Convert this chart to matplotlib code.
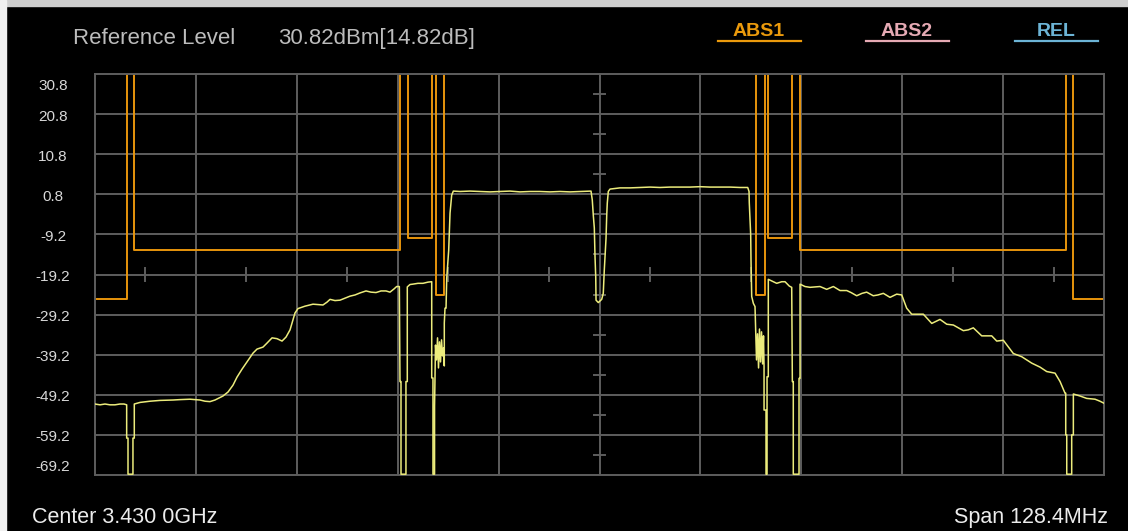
import numpy as np
import matplotlib
matplotlib.use("Agg")
import matplotlib.pyplot as plt
from matplotlib import transforms
from matplotlib.patches import Rectangle

# ---------------- data ----------------
center_label = "Center 3.430 0GHz"
span_label = "Span 128.4MHz"
span_mhz = 128.4
y_top = 30.8
y_bottom = -69.2
ytick_vals = [30.8, 20.8, 10.8, 0.8, -9.2, -19.2, -29.2, -39.2, -49.2, -59.2, -69.2]
ytick_labels = ["30.8", "20.8", "10.8", "0.8", "-9.2", "-19.2", "-29.2", "-39.2", "-49.2", "-59.2", "-69.2"]
ref_title = "Reference Level"
ref_value = "30.82dBm[14.82dB]"
legend_names = ["ABS1", "ABS2", "REL"]
legend_colors = ["#eb9a0c", "#e6aab4", "#6cb4d6"]

# measured trace: frequency offset from centre (MHz), level (dBm)
trace_f = [
    -64.2, -63.56, -62.93, -62.30, -61.66, -61.02, -60.51, -60.17, -60.17, -60.00, -60.00, -59.37, -59.37, -59.20, -59.20,
    -58.47, -57.20, -55.93, -54.27, -53.38, -52.11, -50.84, -50.20, -49.57, -48.93, -47.91, -47.27, -46.64, -46.13,
    -45.49, -44.86, -44.09, -43.58, -42.82, -42.31, -41.67, -41.04, -40.40, -39.89, -39.38, -39.00, -38.75, -38.37,
    -37.48, -36.46, -35.82, -35.19, -34.68, -34.29, -33.66, -33.02, -32.39, -31.75, -31.11, -30.48, -29.71, -29.08,
    -28.44, -27.80, -27.17, -26.66, -26.15, -25.81, -25.47, -25.39, -25.26, -25.26, -24.63, -24.63, -24.46, -24.46,
    -24.12, -23.73, -23.10, -22.46, -21.82, -21.35, -21.35, -21.19, -21.19, -20.99, -20.99, -20.87, -20.74, -20.61,
    -20.49, -20.36, -20.23, -20.10, -19.98, -19.85, -19.75, -19.75, -19.66, -19.53, -19.44, -19.19, -19.02, -18.81,
    -18.60, -17.75, -16.48, -15.21, -13.93, -12.66, -11.39, -10.12, -8.84, -7.57, -6.30, -5.02, -3.75, -2.48, -1.08,
    -0.92, -0.79, -0.66, -0.57, -0.48, -0.44, -0.15, 0.06, 0.28, 0.48, 0.61, 0.70, 0.83, 0.92, 0.99, 1.12, 1.34,
    2.61, 3.88, 5.16, 6.43, 7.70, 8.97, 10.25, 11.52, 12.79, 14.06, 15.34, 16.61, 17.88, 18.86,
    19.03, 19.06, 19.24, 19.28, 19.37, 19.58, 19.79, 19.88, 19.98, 20.11, 20.24, 20.36, 20.49, 20.62, 20.75, 20.87,
    20.94, 20.94, 21.19, 21.19, 21.32, 21.32, 21.48, 21.48, 21.92, 22.55, 23.19, 23.61, 24.16, 24.46, 24.54, 24.66,
    24.66, 25.39, 25.39, 25.52, 25.52, 26.15, 26.79, 27.43, 28.06, 28.91, 29.76, 30.61, 31.46, 32.01, 32.73, 33.41,
    34.00, 34.84, 35.44, 36.12, 36.97, 37.82, 38.46, 39.09, 39.73, 41.21, 42.28, 43.33, 44.19, 45.03, 46.30, 46.93,
    47.57, 48.64, 49.91, 50.55, 51.39, 52.66, 53.73, 55.00, 56.06, 56.91, 57.97, 58.61, 59.24, 59.33, 59.33, 59.46,
    59.46, 60.09, 60.09, 60.30, 60.30, 61.15, 62.00, 63.06, 63.69, 64.2,
]
trace_v = [
    -51.5, -51.7, -51.5, -51.7, -51.7, -51.5, -51.5, -51.7, -60.0, -60.0, -69.0, -69.0, -60.0, -60.0, -51.5,
    -51.1, -50.8, -50.6, -50.5, -50.4, -50.3, -50.5, -50.8, -50.9, -50.5, -49.5, -48.5, -46.8, -44.8,
    -42.8, -41.0, -38.8, -37.8, -37.3, -36.3, -35.0, -35.2, -35.8, -34.8, -33.0, -30.5, -28.8, -27.7,
    -27.1, -26.6, -26.7, -26.8, -26.1, -25.4, -25.7, -25.6, -25.1, -24.6, -24.3, -23.8, -23.3, -23.6,
    -23.7, -23.3, -23.3, -23.6, -22.8, -22.2, -22.2, -45.9, -45.9, -69.0, -69.0, -45.9, -45.9, -22.3,
    -21.7, -21.6, -21.4, -21.4, -21.1, -21.0, -45.0, -45.0, -69.0, -69.0, -52.0, -36.8, -40.5, -35.0,
    -42.5, -36.0, -41.0, -35.5, -39.5, -37.5, -42.0, -31.3, -27.6, -27.6, -20.1, -13.1, -3.9, 0.6,
    1.6, 1.5, 1.6, 1.5, 1.4, 1.5, 1.6, 1.4, 1.5, 1.5, 1.4, 1.5, 1.4, 1.5, 1.6,
    -0.6, -4.4, -7.6, -14.8, -19.8, -25.6, -26.2, -25.8, -25.4, -23.9, -18.1, -14.8, -10.2, -4.4, -1.4, 1.5, 2.1,
    2.4, 2.4, 2.5, 2.6, 2.5, 2.6, 2.6, 2.6, 2.7, 2.6, 2.6, 2.6, 2.5, 2.5,
    1.5, -1.3, -9.3, -15.6, -24.7, -26.4, -27.2, -34.0, -40.5, -34.0, -42.5, -32.8, -41.0, -33.5, -41.5, -34.5,
    -42.2, -53.0, -53.0, -69.0, -69.0, -44.7, -44.7, -20.4, -20.8, -21.4, -21.0, -21.0, -22.1, -22.4, -45.9, -45.9,
    -69.0, -69.0, -45.1, -45.1, -21.6, -22.2, -22.4, -22.3, -22.2, -22.9, -22.2, -23.2, -23.2, -23.7, -24.5, -23.9,
    -23.6, -24.5, -24.3, -23.9, -24.9, -24.1, -24.3, -27.6, -29.1, -29.1, -31.4, -30.4, -31.6, -31.8, -33.2, -33.0,
    -32.5, -34.5, -34.5, -35.8, -35.6, -38.9, -39.7, -41.3, -42.3, -43.4, -43.8, -45.9, -48.8, -48.8, -59.2, -59.2,
    -69.0, -69.0, -59.2, -59.2, -49.0, -49.5, -50.1, -50.3, -50.8, -51.3,
]

# ABS1 limit mask (45 = unbounded, above the screen)
limit_f = [-64.2, -60.17, -60.17, -59.20, -59.20, -25.39, -25.39, -24.41, -24.41, -21.35, -21.35, -20.85, -20.85,
           -19.83, -19.83, 19.92, 19.92, 21.06, 21.06, 21.48, 21.48, 24.54, 24.54, 25.52, 25.52, 59.33, 59.33,
           60.25, 60.25, 64.2]
limit_v = [-25.2, -25.2, 45, 45, -13.0, -13.0, 45, 45, -10.0, -10.0, 45, 45, -24.2, -24.2, 45, 45, -24.3, -24.3,
           45, 45, -10.0, -10.0, 45, 45, -13.0, -13.0, 45, 45, -25.2, -25.2]

# ---------------- figure ----------------
W, H = 1128, 531
fig = plt.figure(figsize=(W / 100, H / 100), dpi=100, facecolor="black")
ax = fig.add_axes([95 / W, 1 - 475 / H, 1009 / W, 401 / H])
ax.set_facecolor("black")
half = span_mhz / 2
ax.set_xlim(-half, half)
ax.set_ylim(y_bottom, y_top)
ax.set_xticks([])
ax.set_yticks([])

grid_c = "#5e5e5e"
for s in ax.spines.values():
    s.set_color(grid_c)
    s.set_linewidth(1.4)
xs = np.linspace(-half, half, 11)
for x in xs[1:-1]:
    ax.axvline(x, color=grid_c, lw=1.4, zorder=1)
for y in ytick_vals[1:-1]:
    ax.axhline(y, color=grid_c, lw=1.4, zorder=1)

# centre cross minor ticks
mid_y = ytick_vals[5]
dx = span_mhz / 10
dy = (y_top - y_bottom) / 10
for i in range(10):
    yv = y_top - dy * (i + 0.5)
    ax.plot([-0.76, 0.76], [yv, yv], color=grid_c, lw=1.4, zorder=1)
    xv = -half + dx * (i + 0.5)
    ax.plot([xv, xv], [mid_y - 1.5, mid_y + 1.5], color=grid_c, lw=1.4, zorder=1)

ax.plot(limit_f, limit_v, color="#e8950c", lw=1.4, zorder=2)
ax.plot(trace_f, trace_v, color="#ecec7c", lw=1.1, zorder=3)

# y labels
lab_c = "#d8d8d8"
base = transforms.blended_transform_factory(fig.transFigure, ax.transData)
for i, (v, t) in enumerate(zip(ytick_vals, ytick_labels)):
    off = -6.5
    if i == 0:
        off = -16
    elif i == len(ytick_vals) - 1:
        off = 4.3
    tr = base + transforms.ScaledTranslation(0, off / 100, fig.dpi_scale_trans)
    fig.text(53 / W, v, t, transform=tr, ha="center", va="baseline", fontsize=11,
             color=lab_c, family="Liberation Sans")

def px(x, y):
    return x / W, 1 - y / H

fig.text(*px(73, 44.3), ref_title, fontsize=16, color="#bcbcbc", va="baseline", family="Liberation Sans")
fig.text(*px(278, 44.3), ref_value, fontsize=16, color="#bcbcbc", va="baseline", family="Liberation Sans")

leg_centers = [759, 907, 1056]
for name, col, cx in zip(legend_names, legend_colors, leg_centers):
    fig.text(*px(cx, 35.7), name, fontsize=14, color=col, ha="center", va="baseline",
             fontweight="bold", family="Liberation Sans")
    x0, y0 = px(cx - 41.5, 40.5)
    x1, _ = px(cx + 41.5, 40.5)
    fig.add_artist(plt.Line2D([x0, x1], [y0, y0], transform=fig.transFigure, color=col, lw=1.6))

fig.text(*px(32, 523), center_label, fontsize=15.5, color="#ececec", va="baseline", family="Liberation Sans")
fig.text(*px(1108, 523), span_label, fontsize=15.5, color="#ececec", va="baseline", ha="right",
         family="Liberation Sans")

# window frame (light border top / left)
fig.add_artist(Rectangle((0, 1 - 6 / H), 1, 6 / H, transform=fig.transFigure, color="#cfcfcf", zorder=10))
fig.add_artist(Rectangle((0, 0), 6 / W, 1, transform=fig.transFigure, color="#f0f0f0", zorder=10))

fig.savefig("out.png", dpi=100, facecolor="black")
